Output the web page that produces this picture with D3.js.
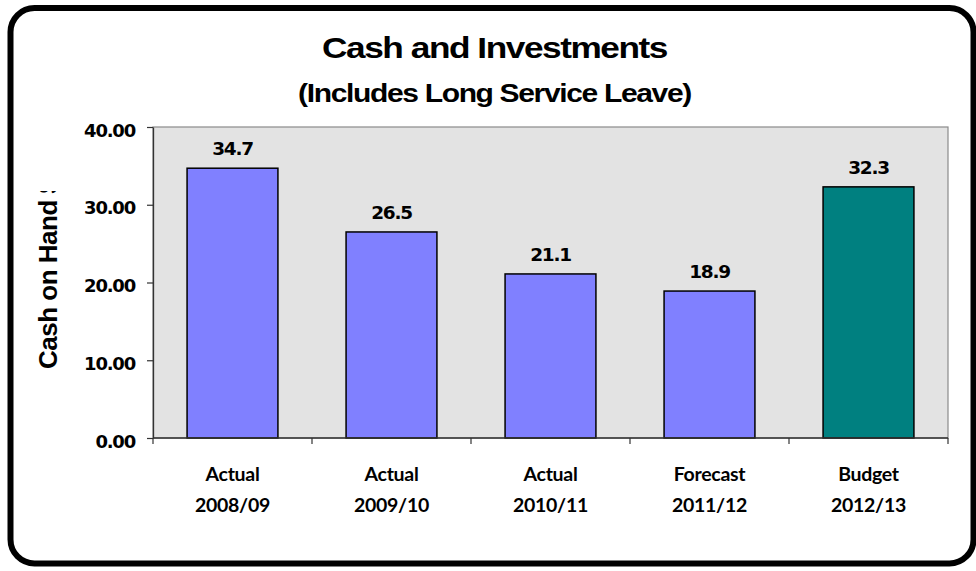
<!DOCTYPE html>
<html>
<head>
<meta charset="utf-8">
<script src="https://cdn.jsdelivr.net/npm/d3@7/dist/d3.min.js"></script>
<style>
  html, body { margin: 0; padding: 0; background: #ffffff; }
  svg { display: block; }
</style>
</head>
<body>
<svg id="chart" width="976" height="571"></svg>
<script>
// Cash and investments by financial year ($ million)
const categories = ["Actual 2008/09", "Actual 2009/10", "Actual 2010/11", "Forecast 2011/12", "Budget 2012/13"];
const values = [34.7, 26.5, 21.1, 18.9, 32.3];
const yTicks = [0, 10, 20, 30, 40];
const yDomain = [0, 40];
const titleText = "Cash and Investments";
const subtitleText = "(Includes Long Service Leave)";
const yAxisTitle = "Cash on Hand $";

const svg = d3.select("#chart");
const plot = { left: 153, right: 948, top: 127, bottom: 438 };

const x = d3.scaleBand()
  .domain(categories)
  .range([plot.left, plot.right])
  .paddingInner(0.75 / 1.75)
  .paddingOuter(0.375 / 1.75);

const y = d3.scaleLinear().domain(yDomain).range([plot.bottom, plot.top]);

// Horizontally scale a centred text so it spans the given width
function fitWidth(sel, cx, baseline, width) {
  const w = sel.node().getComputedTextLength();
  sel.attr("x", 0).attr("y", 0)
    .attr("transform", `translate(${cx},${baseline}) scale(${width / w},1)`);
}

// Outer rounded frame
svg.append("rect")
  .attr("x", 10.5).attr("y", 8)
  .attr("width", 963).attr("height", 555.5)
  .attr("rx", 24).attr("ry", 24)
  .attr("fill", "#ffffff")
  .attr("stroke", "#000000")
  .attr("stroke-width", 6);

// Titles
const title = svg.append("text")
  .attr("text-anchor", "middle")
  .attr("font-family", "'Liberation Sans', Arial, sans-serif")
  .attr("font-weight", "bold")
  .attr("font-size", 29)
  .attr("letter-spacing", "-1.2px")
  .text(titleText);
fitWidth(title, 494.5, 57.5, 345);

const subtitle = svg.append("text")
  .attr("text-anchor", "middle")
  .attr("font-family", "'Liberation Sans', Arial, sans-serif")
  .attr("font-weight", "bold")
  .attr("font-size", 26.5)
  .attr("letter-spacing", "-1.2px")
  .text(subtitleText);
fitWidth(subtitle, 494.5, 101.5, 393);

// Plot area background
svg.append("rect")
  .attr("x", plot.left).attr("y", plot.top)
  .attr("width", plot.right - plot.left)
  .attr("height", plot.bottom - plot.top)
  .attr("fill", "#e3e3e3")
  .attr("stroke", "#8a8a8a")
  .attr("stroke-width", 1.2);

// Bars
svg.append("g")
  .selectAll("rect")
  .data(categories)
  .join("rect")
  .attr("x", d => x(d))
  .attr("y", (d, i) => y(values[i]))
  .attr("width", x.bandwidth())
  .attr("height", (d, i) => y(0) - y(values[i]))
  .attr("fill", d => d.startsWith("Budget") ? "#008080" : "#8080ff")
  .attr("stroke", "#000000")
  .attr("stroke-width", 1.5);

// Value labels
svg.append("g")
  .selectAll("text")
  .data(categories)
  .join("text")
  .attr("x", d => x(d) + x.bandwidth() / 2)
  .attr("y", (d, i) => y(values[i]) - 13)
  .attr("text-anchor", "middle")
  .attr("font-family", "'DejaVu Sans', Verdana, sans-serif")
  .attr("font-weight", "bold")
  .attr("font-size", 18.5)
  .attr("letter-spacing", "-1.3px")
  .attr("fill", "#000000")
  .text((d, i) => values[i].toFixed(1));

// Y axis
const yAxis = svg.append("g")
  .attr("transform", `translate(${plot.left},0)`)
  .call(d3.axisLeft(y).tickValues(yTicks).tickFormat(d3.format(".2f")).tickSize(6).tickSizeOuter(0).tickPadding(12));
yAxis.select(".domain").attr("stroke", "#333333").attr("stroke-width", 1.3);
yAxis.selectAll(".tick line").attr("stroke", "#333333").attr("stroke-width", 1.2);
yAxis.selectAll(".tick text")
  .attr("font-family", "'DejaVu Sans', Verdana, sans-serif")
  .attr("font-weight", "bold")
  .attr("font-size", 18)
  .attr("letter-spacing", "-1.2px")
  .attr("fill", "#000000")
  .attr("dy", "0.5em");

// X axis: line with ticks at band boundaries
const xAxisG = svg.append("g").attr("transform", `translate(0,${plot.bottom})`);
xAxisG.append("line")
  .attr("x1", plot.left).attr("x2", plot.right)
  .attr("stroke", "#333333").attr("stroke-width", 1.3);
const boundaries = categories.map(d => x(d) - (x.step() - x.bandwidth()) / 2)
  .concat([plot.right]);
xAxisG.selectAll("line.tick")
  .data(boundaries)
  .join("line")
  .attr("class", "tick")
  .attr("x1", d => d).attr("x2", d => d)
  .attr("y1", 0).attr("y2", 6)
  .attr("stroke", "#333333").attr("stroke-width", 1.2);

// Category labels on two lines
const catLabels = xAxisG.selectAll("text.cat")
  .data(categories)
  .join("text")
  .attr("class", "cat")
  .attr("text-anchor", "middle")
  .attr("font-family", "Lato, 'Open Sans', sans-serif")
  .attr("font-weight", "bold")
  .attr("font-size", 19.5)
  .attr("letter-spacing", "-0.3px")
  .attr("fill", "#000000");
catLabels.append("tspan")
  .attr("x", d => x(d) + x.bandwidth() / 2)
  .attr("y", 42.7)
  .text(d => d.split(" ")[0]);
catLabels.append("tspan")
  .attr("x", d => x(d) + x.bandwidth() / 2)
  .attr("y", 73.7)
  .text(d => d.split(" ")[1]);

// Y axis title, cut off at the top
svg.append("clipPath").attr("id", "ytitle-clip")
  .append("rect").attr("x", 0).attr("y", 191).attr("width", 140).attr("height", 300);
svg.append("g")
  .attr("clip-path", "url(#ytitle-clip)")
  .append("text")
  .attr("transform", "translate(56.5,369) rotate(-90)")
  .attr("text-anchor", "start")
  .attr("font-family", "'Liberation Sans', Arial, sans-serif")
  .attr("font-weight", "bold")
  .attr("font-size", 26)
  .attr("letter-spacing", "-0.5px")
  .attr("fill", "#000000")
  .text(yAxisTitle);
</script>
</body>
</html>
